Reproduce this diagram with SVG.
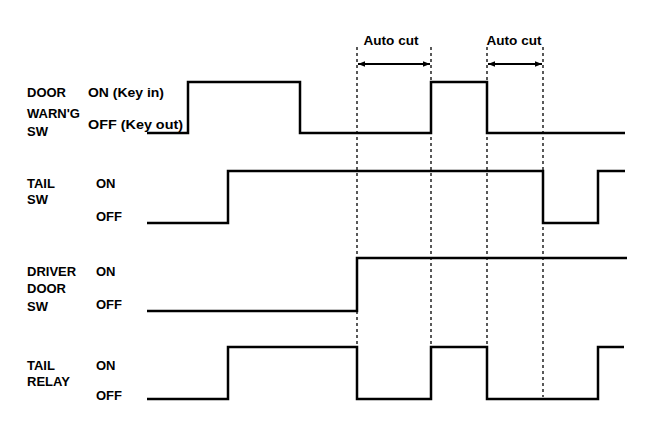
<svg xmlns="http://www.w3.org/2000/svg" width="672" height="438" viewBox="0 0 672 438">
<style>
text{font-family:"Liberation Sans",Arial,sans-serif;font-weight:bold;font-size:13px;fill:#000}
.sig{fill:none;stroke:#000;stroke-width:2.5;stroke-linejoin:miter}
.dash{fill:none;stroke:#000;stroke-width:1.3;stroke-dasharray:3 3}
.arr{fill:none;stroke:#000;stroke-width:2}
</style>
<defs>
<marker id="ah" viewBox="0 0 10 10" refX="10" refY="5" markerWidth="9" markerHeight="7" markerUnits="userSpaceOnUse" orient="auto-start-reverse">
<path d="M0,1 L10,5 L0,9 z" fill="#000"/>
</marker>
</defs>
<rect width="672" height="438" fill="#fff"/>
<g id="connectors">
<line class="dash" x1="357" y1="47" x2="357" y2="346"/>
<line class="dash" x1="431" y1="47" x2="431" y2="346"/>
<line class="dash" x1="487" y1="47" x2="487" y2="346"/>
<line class="dash" x1="543" y1="47" x2="543" y2="397"/>
<line class="arr" x1="358" y1="64" x2="430" y2="64" marker-start="url(#ah)" marker-end="url(#ah)"/>
<line class="arr" x1="488" y1="64" x2="542" y2="64" marker-start="url(#ah)" marker-end="url(#ah)"/>
</g>
<g id="autocut1"><text x="391" y="45" text-anchor="middle" textLength="55" lengthAdjust="spacingAndGlyphs">Auto cut</text></g>
<g id="autocut2"><text x="514" y="45" text-anchor="middle" textLength="55" lengthAdjust="spacingAndGlyphs">Auto cut</text></g>
<g id="door-warning-sw">
<text x="27" y="97">DOOR</text>
<text x="27" y="118">WARN'G</text>
<text x="27" y="136">SW</text>
<text x="88" y="97" textLength="76" lengthAdjust="spacingAndGlyphs">ON (Key in)</text>
<text x="88" y="129" textLength="95" lengthAdjust="spacingAndGlyphs">OFF (Key out)</text>
<path class="sig" d="M147,133 H188 V82 H300 V133 H431 V82 H487 V133 H625"/>
</g>
<g id="tail-sw">
<text x="27" y="188">TAIL</text>
<text x="27" y="204">SW</text>
<text x="96" y="188">ON</text>
<text x="96" y="221">OFF</text>
<path class="sig" d="M147,223 H228 V171 H543 V223 H598 V171 H625"/>
</g>
<g id="driver-door-sw">
<text x="27" y="276">DRIVER</text>
<text x="27" y="293">DOOR</text>
<text x="27" y="311">SW</text>
<text x="96" y="276">ON</text>
<text x="96" y="309">OFF</text>
<path class="sig" d="M147,311 H357 V258 H627"/>
</g>
<g id="tail-relay">
<text x="27" y="370">TAIL</text>
<text x="27" y="386">RELAY</text>
<text x="96" y="370">ON</text>
<text x="96" y="400">OFF</text>
<path class="sig" d="M147,399 H228 V347 H357 V399 H431 V347 H487 V399 H598 V347 H624"/>
</g>
</svg>
